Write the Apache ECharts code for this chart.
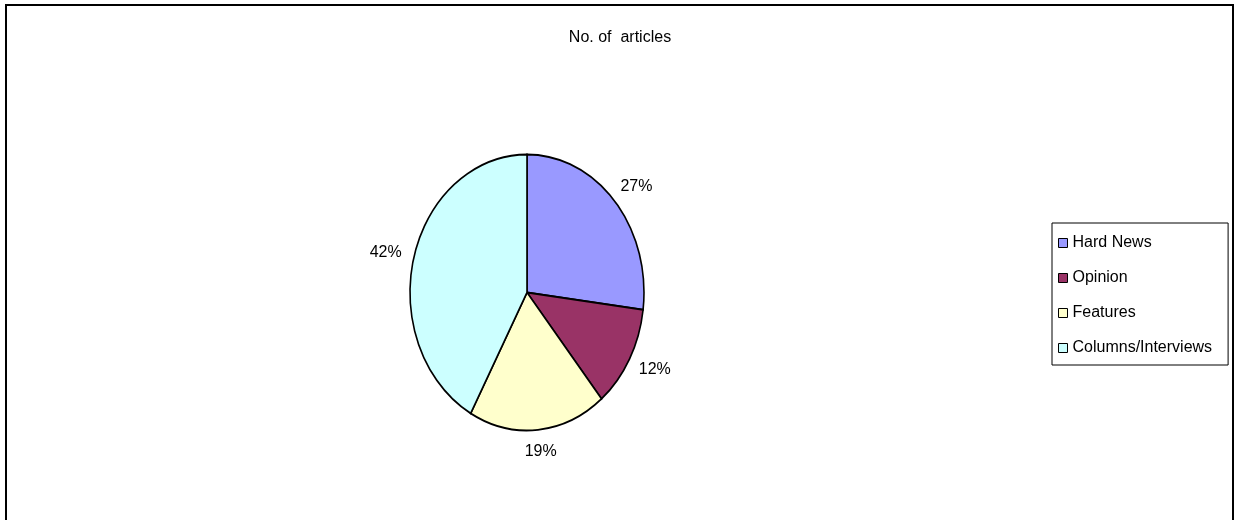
<!DOCTYPE html>
<html>
<head>
<meta charset="utf-8">
<title>No. of articles</title>
<script src="https://cdn.jsdelivr.net/npm/echarts@6/dist/echarts.min.js"></script>
<style>
  html, body { margin: 0; padding: 0; background: #fff; }
  #chart { width: 1235px; height: 520px; }
</style>
</head>
<body>
<div id="chart"></div>
<script>
// Article types and their share of all articles (percent)
const categories = ['Hard News', 'Opinion', 'Features', 'Columns/Interviews'];
const shares = [27, 12, 19, 42];
const colors = ['#9999FF', '#993366', '#FFFFCC', '#CCFFFF'];

const FONT = "'Liberation Sans', Arial, sans-serif";

// Oval pie geometry
const pie = { cx: 527, cy: 292.5, rx: 117, ry: 138 };

const total = shares.reduce((a, b) => a + b, 0);
const starts = [];
shares.reduce((acc, v, i) => { starts[i] = acc; return acc + v; }, 0);

function renderSlice(i) {
  return function (params, api) {
    const value = api.value(0);
    const a0 = starts[i] / total * Math.PI * 2 - Math.PI / 2;
    const a1 = a0 + value / total * Math.PI * 2;
    const mid = (a0 + a1) / 2;
    const ux = Math.cos(mid), uy = Math.sin(mid);
    const k = 1.11;
    const lx = pie.cx + k * pie.rx * ux + ux * 16;
    const ly = pie.cy + k * pie.ry * uy + uy * 7;
    return {
      type: 'group',
      children: [
        {
          type: 'group',
          x: pie.cx,
          y: pie.cy,
          scaleY: pie.ry / pie.rx,
          children: [{
            type: 'sector',
            shape: { cx: 0, cy: 0, r: pie.rx, r0: 0, startAngle: a0, endAngle: a1, clockwise: true },
            style: { fill: colors[i], stroke: '#000', lineWidth: 1.6, strokeNoScale: true }
          }]
        },
        {
          type: 'text',
          x: lx,
          y: ly,
          style: {
            text: Math.round(value) + '%',
            fill: '#000',
            font: '16px ' + FONT,
            align: 'center',
            verticalAlign: 'middle'
          }
        }
      ]
    };
  };
}

const series = categories.map((name, i) => ({
  type: 'custom',
  name: name,
  coordinateSystem: 'none',
  itemStyle: { color: colors[i] },
  data: [[shares[i]]],
  renderItem: renderSlice(i),
  animation: false
}));

const chart = echarts.init(document.getElementById('chart'), null, { renderer: 'canvas' });
chart.setOption({
  backgroundColor: '#fff',
  animation: false,
  title: {
    text: 'No. of  articles',
    left: 620,
    textAlign: 'center',
    top: 30,
    padding: 0,
    textStyle: { fontFamily: FONT, fontSize: 16, fontWeight: 'normal', color: '#000' }
  },
  legend: {
    orient: 'vertical',
    left: 1052,
    top: 223,
    padding: [12, 16, 9, 6],
    itemGap: 19,
    itemWidth: 9,
    itemHeight: 9,
    icon: 'rect',
    borderColor: '#000',
    borderWidth: 1,
    selectedMode: false,
    data: categories,
    itemStyle: { borderColor: '#000', borderWidth: 1 },
    textStyle: { fontFamily: FONT, fontSize: 16, color: '#000' }
  },
  graphic: [{
    type: 'rect',
    shape: { x: 6, y: 5, width: 1227, height: 530 },
    style: { fill: null, stroke: '#000', lineWidth: 2 },
    silent: true
  }],
  series: series
});
</script>
</body>
</html>
